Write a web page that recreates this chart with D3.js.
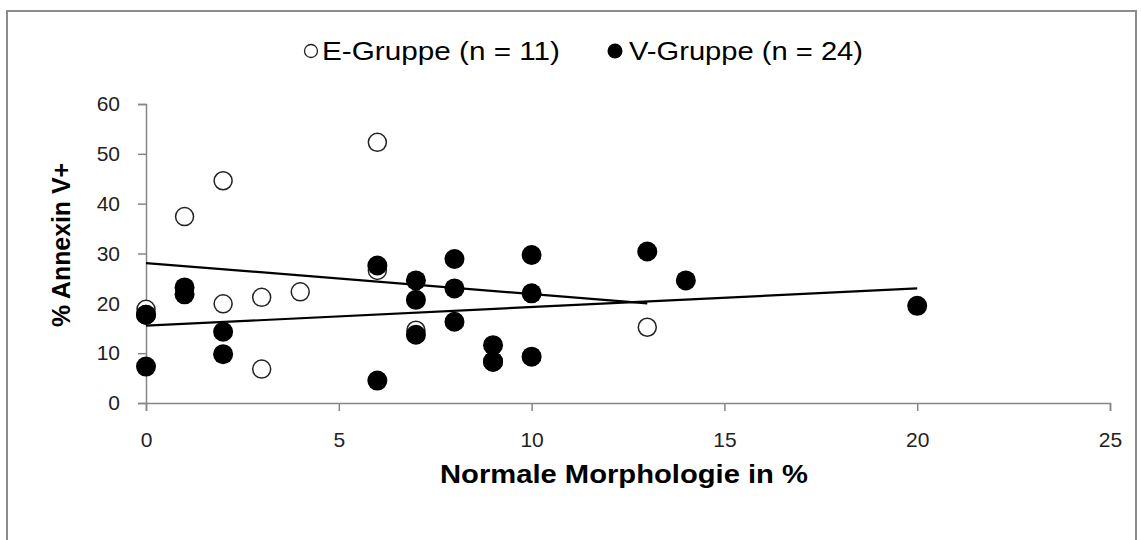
<!DOCTYPE html>
<html>
<head>
<meta charset="utf-8">
<script src="https://cdn.jsdelivr.net/npm/d3@7"></script>
<style>
  html, body { margin: 0; padding: 0; background: #fff; }
  svg { display: block; font-family: Arial, "Liberation Sans", sans-serif; }
</style>
</head>
<body>
<svg id="chart" width="1141" height="540"></svg>
<script>
// E-Gruppe: normal morphology (%) vs. Annexin V positive (%)
const eX = [0, 1, 2, 2, 3, 3, 4, 6, 6, 7, 13];
const eY = [18.8, 37.4, 44.6, 19.9, 21.2, 6.8, 22.3, 52.3, 26.6, 14.6, 15.2];

// V-Gruppe
const vX = [0, 0, 0, 1, 1, 2, 2, 6, 6, 7, 7, 7, 8, 8, 8, 9, 9, 9, 10, 10, 10, 13, 14, 20];
const vY = [17.7, 17.7, 7.3, 23.2, 21.8, 14.3, 9.8, 27.6, 4.5, 24.6, 20.7, 13.7, 28.9, 23.0, 16.3, 11.6, 8.3, 8.3, 29.7, 22.0, 9.3, 30.4, 24.6, 19.5];

const xTicks = [0, 5, 10, 15, 20, 25];
const yTicks = [0, 10, 20, 30, 40, 50, 60];
const seriesNames = ["E-Gruppe (n = 11)", "V-Gruppe (n = 24)"];
const xTitle = "Normale Morphologie in %";
const yTitle = "% Annexin V+";

const svg = d3.select("#chart");
const axisColor = "#868686";

// outer chart frame
svg.append("path")
  .attr("d", "M7,545 L7,11 L1136,11 L1136,545")
  .attr("fill", "none").attr("stroke", "#8c8c8c").attr("stroke-width", 2);

const x = d3.scaleLinear().domain([0, 25]).range([146, 1110]);
const y = d3.scaleLinear().domain([0, 60]).range([403, 104]);

// axes
const xAxis = svg.append("g").attr("transform", `translate(0,${y(0)})`)
  .call(d3.axisBottom(x).tickValues(xTicks).tickSize(8).tickSizeOuter(8).tickPadding(21));
const yAxis = svg.append("g").attr("transform", `translate(${x(0)},0)`)
  .call(d3.axisLeft(y).tickValues(yTicks).tickSize(8).tickSizeOuter(8).tickPadding(18));
[xAxis, yAxis].forEach(g => {
  g.selectAll("path, line").attr("stroke", axisColor).attr("stroke-width", 1.5);
  g.selectAll("text").attr("fill", "#222").style("font-size", "21px")
    .style("font-family", "Arial, 'Liberation Sans', sans-serif");
});

// linear regression through a series
function fit(xs, ys) {
  const n = xs.length, mx = d3.mean(xs), my = d3.mean(ys);
  let sxy = 0, sxx = 0;
  for (let i = 0; i < n; i++) { sxy += (xs[i] - mx) * (ys[i] - my); sxx += (xs[i] - mx) ** 2; }
  const b = sxy / sxx, a = my - b * mx;
  const [x0, x1] = d3.extent(xs);
  return [[x0, a + b * x0], [x1, a + b * x1]];
}

const ePts = eX.map((d, i) => [d, eY[i]]);
const vPts = vX.map((d, i) => [d, vY[i]]);

svg.append("g").selectAll("circle").data(ePts).join("circle")
  .attr("cx", d => x(d[0])).attr("cy", d => y(d[1])).attr("r", 9)
  .attr("fill", "#fff").attr("stroke", "#222").attr("stroke-width", 1.5);

svg.append("g").selectAll("circle").data(vPts).join("circle")
  .attr("cx", d => x(d[0])).attr("cy", d => y(d[1])).attr("r", 10)
  .attr("fill", "#000");

const line = d3.line().x(d => x(d[0])).y(d => y(d[1]));
[fit(eX, eY), fit(vX, vY)].forEach(seg => {
  svg.append("path").attr("d", line(seg)).attr("fill", "none")
    .attr("stroke", "#000").attr("stroke-width", 2.2);
});

// legend
const legend = svg.append("g");
legend.append("circle").attr("cx", 311).attr("cy", 51).attr("r", 6.5)
  .attr("fill", "#fff").attr("stroke", "#222").attr("stroke-width", 1.3);
legend.append("text").attr("x", 322).attr("y", 60).text(seriesNames[0])
  .style("font-size", "25px").attr("fill", "#000")
  .attr("textLength", 238).attr("lengthAdjust", "spacingAndGlyphs");
legend.append("circle").attr("cx", 615).attr("cy", 51).attr("r", 7.5).attr("fill", "#000");
legend.append("text").attr("x", 629).attr("y", 60).text(seriesNames[1])
  .style("font-size", "25px").attr("fill", "#000")
  .attr("textLength", 234).attr("lengthAdjust", "spacingAndGlyphs");

// axis titles
svg.append("text").attr("x", 440).attr("y", 483)
  .style("font-size", "25px").style("font-weight", "bold")
  .attr("textLength", 368).attr("lengthAdjust", "spacingAndGlyphs").text(xTitle);
svg.append("text").attr("transform", "translate(70,327) rotate(-90)")
  .style("font-size", "25px").style("font-weight", "bold")
  .attr("textLength", 164).attr("lengthAdjust", "spacingAndGlyphs").text(yTitle);
</script>
</body>
</html>
